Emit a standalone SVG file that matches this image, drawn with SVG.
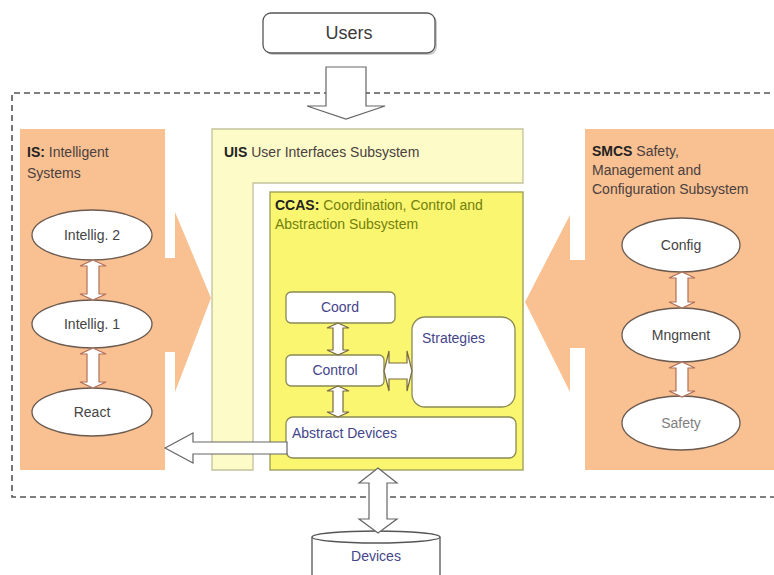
<svg xmlns="http://www.w3.org/2000/svg" width="774" height="575" viewBox="0 0 774 575">
<style>
text{font-family:"Liberation Sans",Arial,sans-serif;fill:#3a3a3a}
.t{font-size:14px;fill:#4a4040}
.b{font-weight:bold;fill:#222}
.el{fill:#fff;stroke:#6a5a50;stroke-width:1.3}
.lab{font-size:14px;text-anchor:middle;fill:#444}
.box{fill:#fff;stroke:#8a8a55;stroke-width:1.3}
.bl{font-size:14px;fill:#45458a}
.orange{fill:#f9c191}
.arr{fill:#fff;stroke:#666;stroke-width:1.2;stroke-linejoin:miter}
.arrs{fill:#fff;stroke:#7a6a40;stroke-width:1.2}
.arro{fill:#fff;stroke:#b0705a;stroke-width:1.2}
</style>
<rect width="774" height="575" fill="#fff"/>
<g id="boundary">
<path d="M780,93 H12 V497 H780" fill="none" stroke="#555" stroke-width="1.6" stroke-dasharray="6,4"/>
</g>
<g id="users">
<rect x="265" y="15" width="172" height="40" rx="8" fill="#ccc"/>
<rect x="263" y="13" width="172" height="40" rx="8" fill="#fff" stroke="#555" stroke-width="1.3"/>
<text x="349" y="39" font-size="18" text-anchor="middle" fill="#222">Users</text>
</g>
<g id="is">
<rect class="orange" x="20" y="129" width="145" height="341"/>
<text class="t" x="27" y="157"><tspan class="b">IS:</tspan> Intelligent</text>
<text class="t" x="27" y="178">Systems</text>
<g id="intellig2"><ellipse class="el" cx="92" cy="235" rx="60" ry="25"/><text class="lab" x="92" y="240">Intellig. 2</text></g>
<g id="intellig1"><ellipse class="el" cx="92" cy="324" rx="60" ry="24"/><text class="lab" x="92" y="329">Intellig. 1</text></g>
<g id="react"><ellipse class="el" cx="92" cy="412" rx="60" ry="24"/><text class="lab" x="92" y="417">React</text></g>
</g>
<g id="smcs">
<rect class="orange" x="585" y="129" width="192" height="341"/>
<text class="t" x="592" y="156"><tspan class="b">SMCS</tspan> Safety,</text>
<text class="t" x="592" y="175">Management and</text>
<text class="t" x="592" y="194">Configuration Subsystem</text>
<g id="config"><ellipse class="el" cx="681" cy="245" rx="59" ry="27"/><text class="lab" x="681" y="250">Config</text></g>
<g id="mngment"><ellipse class="el" cx="681" cy="335" rx="59" ry="27"/><text class="lab" x="681" y="340">Mngment</text></g>
<g id="safety"><ellipse class="el" cx="681" cy="423" rx="59" ry="27"/><text class="lab" x="681" y="428" style="fill:#808080">Safety</text></g>
</g>
<g id="uis">
<path d="M212,129 H523 V183 H253 V470 H212 Z" fill="#fdfbc8" stroke="#c4c29a" stroke-width="1.3"/>
<text class="t" x="224" y="157"><tspan class="b">UIS</tspan> User Interfaces Subsystem</text>
</g>
<g id="ccas">
<rect x="270" y="192" width="253" height="278" fill="#faf670" stroke="#9c9a55" stroke-width="1.3"/>
<text class="t" x="275" y="210" style="fill:#72800a"><tspan class="b">CCAS:</tspan> Coordination, Control and</text>
<text class="t" x="275" y="229" style="fill:#72800a">Abstraction Subsystem</text>
</g>
<g id="coord"><rect class="box" x="286" y="292" width="109" height="31" rx="5"/><text class="bl" x="340" y="312" text-anchor="middle">Coord</text></g>
<g id="control"><rect class="box" x="286" y="355" width="98" height="31" rx="5"/><text class="bl" x="335" y="375" text-anchor="middle">Control</text></g>
<g id="strategies"><rect class="box" x="412" y="317" width="103" height="90" rx="13"/><text class="bl" x="422" y="343">Strategies</text></g>
<g id="abstract"><rect class="box" x="286" y="417" width="230" height="41" rx="7"/><text class="bl" x="292" y="438">Abstract  Devices</text></g>
<g id="devices">
<path d="M312,537 A64,6 0 0 1 440,537 L440,580 L312,580 Z" fill="#fff" stroke="#555" stroke-width="1.3"/>
<path d="M312,537 A64,6 0 0 0 440,537" fill="none" stroke="#555" stroke-width="1.3"/>
<text class="bl" x="376" y="561" text-anchor="middle">Devices</text>
</g>
<g id="connectors">
<polygon class="orange" points="163,258 175,258 175,212 211,298 175,392 175,352 163,352"/>
<polygon class="orange" points="587,260 570,260 570,215 525,302 570,392 570,348 587,348"/>
<polygon class="arr" points="326,67 366,67 366,106 385,106 346,119 307,106 326,106"/>
<polygon class="arr" points="165,448 193,433 193,442 287,442 287,454 193,454 193,463"/>
<polygon class="arr" points="378,468 397,483 387,483 387,519 397,519 378,533 359,519 369,519 369,483 359,483"/>
<polygon class="arro" points="93,260 106,266 99,266 99,294 106,294 93,300 80,294 87,294 87,266 80,266"/>
<polygon class="arro" points="93,348 106,354 99,354 99,382 106,382 93,388 80,382 87,382 87,354 80,354"/>
<polygon class="arro" points="682,272 695,278 688,278 688,302 695,302 682,308 669,302 676,302 676,278 669,278"/>
<polygon class="arro" points="682,362 695,368 688,368 688,391 695,391 682,397 669,391 676,391 676,368 669,368"/>
<polygon class="arrs" points="338,323 349,328 343,328 343,350 349,350 338,355 327,350 333,350 333,328 327,328"/>
<polygon class="arrs" points="338,386 349,391 343,391 343,412 349,412 338,417 327,412 333,412 333,391 327,391"/>
<polygon class="arrs" points="384,371 389,351 389,363 407,363 407,351 412,371 407,391 407,379 389,379 389,391"/>
</g>
</svg>
